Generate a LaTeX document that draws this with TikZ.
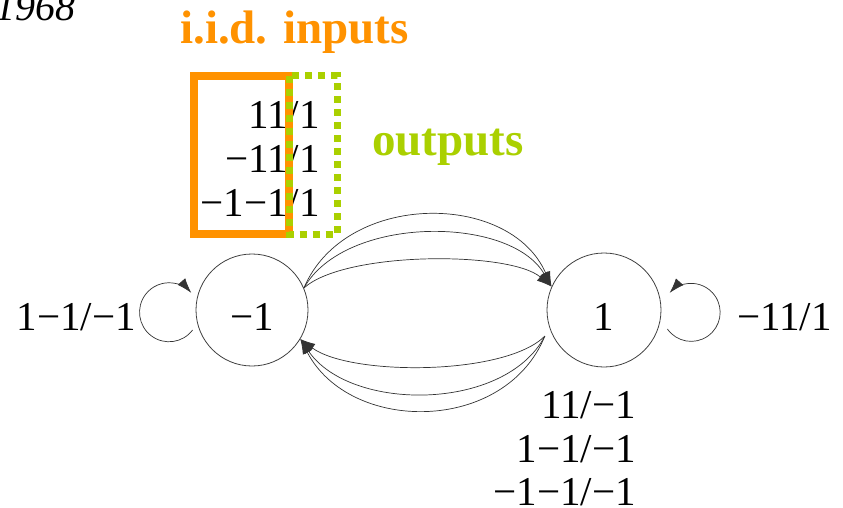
\documentclass[tikz,border=0pt]{standalone}
\usepackage{fontspec}
\setmainfont{Liberation Serif}
\usetikzlibrary{arrows.meta}
\definecolor{iidorange}{RGB}{255,146,0}
\definecolor{outgreen}{RGB}{170,208,0}
\begin{document}
\begin{tikzpicture}[x=1pt,y=-1pt,
  state/.style={circle,draw=black!75,line width=0.8pt,inner sep=0pt,
    text height=40.5pt,text depth=0pt,font=\fontsize{41}{45}\selectfont},
  lbl/.style={inner sep=0pt,font=\fontsize{41}{45}\selectfont},
  title/.style={inner sep=0pt,font=\fontsize{47}{50}\selectfont\bfseries},
  arr/.style={draw=black!80,line width=0.7pt,-{Latex[length=15pt,width=10pt]}}]
\useasboundingbox (0,0) rectangle (843,507);

% year, partly outside the page
\node[inner sep=0pt,anchor=base east,font=\fontsize{40}{44}\selectfont\itshape] (year) at (76,20) {1968};

% the two states
\node[state,minimum size=112pt] (L) at (252,310) {−1};
\node[state,minimum size=114pt] (R) at (604,310) {1};

% transitions from -1 to 1
\draw[arr] (L.23) .. controls (345,191) and (510,191) .. (R.156);
\draw[arr] (L.23) .. controls (345,215) and (510,215) .. (R.156);
\draw[arr] (L.23) .. controls (345,251) and (510,251) .. (R.156);

% transitions from 1 to -1
\draw[arr] ([xshift=-8pt]R.207) .. controls (505,376) and (350,376) .. (L.-31);
\draw[arr] ([xshift=-8pt]R.207) .. controls (505,412) and (350,412) .. (L.-31);
\draw[arr] ([xshift=-8pt]R.207) .. controls (505,434) and (350,434) .. (L.-31);

% self loops
\draw[arr] ([shift={(-3pt,-20pt)}]L.west) arc[start angle=37,end angle=319,radius=29.5];
\draw[arr] ([shift={(6pt,-19pt)}]R.east) arc[start angle=145,end angle=-138,radius=29];

% edge labels
\node[lbl,anchor=base east] (lloop) at (136,330) {1−1/−1};
\node[lbl,anchor=base west] (rloop) at (737,330) {−11/1};
\node[lbl,anchor=base east] (d1) at (636,418) {11/−1};
\node[lbl,anchor=base east] (d2) at (636,462) {1−1/−1};
\node[lbl,anchor=base east] (d3) at (636,505) {−1−1/−1};

% input/output table with its boxes
\node[lbl,anchor=base east] (u1) at (320,128) {11/1};
\node[lbl,anchor=base east] (u2) at (320,172) {−11/1};
\node[lbl,anchor=base east] (u3) at (320,216) {−1−1/1};
\draw[iidorange,line width=8pt] (194,76) rectangle (289,234);
\draw[outgreen,line width=7pt,dash pattern=on 7pt off 6pt] (289,75.5) rectangle (337,234);

\node[title,text=iidorange,anchor=base west] (inlbl) at (180,43) {i.i.d. inputs};
\node[title,text=outgreen,anchor=base west] (outlbl) at (372,155) {outputs};
\end{tikzpicture}
\end{document}
